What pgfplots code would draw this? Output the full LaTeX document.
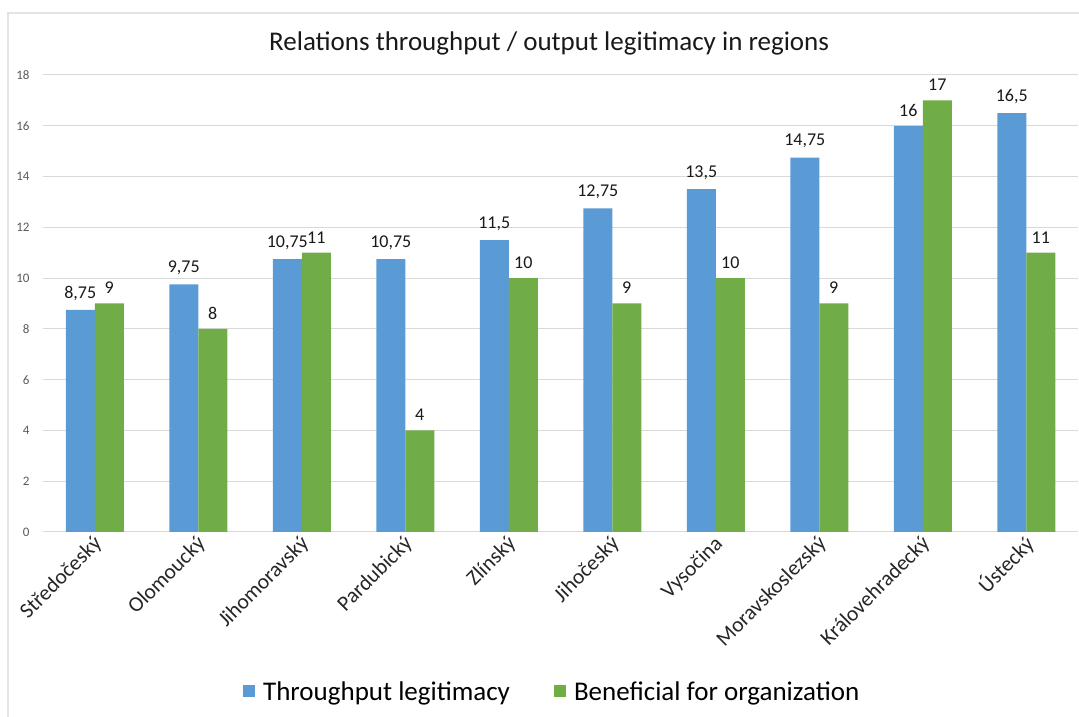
\documentclass[border=0pt]{standalone}
\usepackage{pgfplots}
\pgfplotsset{compat=1.18}
\usepackage{fontspec}
\setmainfont{Carlito}
\definecolor{cblue}{HTML}{5B9BD5}
\definecolor{cgreen}{HTML}{70AD47}
\definecolor{cgrid}{HTML}{D9D9D9}
\definecolor{cborder}{HTML}{E3E3E3}
\definecolor{ctick}{HTML}{595959}
\pgfplotstableread{
x y l
0 8.75 8,75
1 9.75 9,75
2 10.75 10,75
3 10.75 10,75
4 11.5 11,5
5 12.75 12,75
6 13.5 13,5
7 14.75 14,75
8 16 16
9 16.5 16,5
}\tput
\pgfplotstableread{
x y l
0 9 9
1 8 8
2 11 11
3 4 4
4 10 10
5 9 9
6 10 10
7 9 9
8 17 17
9 11 11
}\benef
\begin{document}
\begin{tikzpicture}
\draw[cborder, line width=1.2pt] (8pt,0pt) -- (8pt,704pt) -- (1079pt,704pt);
\begin{axis}[
  at={(43pt,185pt)}, anchor=south west,
  scale only axis, width=1035pt, height=457pt,
  xmin=-0.5, xmax=9.5, ymin=0, ymax=18,
  ytick={0,2,...,18},
  xtick={0,...,9},
  xticklabels={Středočeský,Olomoucký,Jihomoravský,Pardubický,Zlínský,Jihočeský,Vysočina,Moravskoslezský,Královehradecký,Ústecký},
  xticklabel style={rotate=45, anchor=east, font=\fontsize{21.5}{21.5}\selectfont, text=black!85, yshift=-6pt, xshift=3pt},
  yticklabel style={font=\fontsize{13}{13}\selectfont, text=ctick, xshift=-10pt, /pgf/number format/assume math mode=true},
  ymajorgrids, grid style={cgrid, line width=1pt},
  axis line style={draw=none},
  tick style={draw=none},
  ybar=0pt, bar width=29pt,
  nodes near coords, point meta=explicit symbolic,
  nodes near coords style={font=\fontsize{18}{18}\selectfont, text=black!90, yshift=6pt},
  title={Relations throughput / output legitimacy in regions},
  title style={at={(0.489,1)}, anchor=base, yshift=18pt, font=\fontsize{27}{27}\selectfont, text=black!90},
  legend style={at={(0.492,-0.35)}, anchor=center, draw=none, font=\fontsize{27}{27}\selectfont, /tikz/every even column/.append style={column sep=42pt}, /tikz/every odd column/.append style={column sep=6pt}},
  legend columns=2,
  legend image code/.code={\path[#1, draw=none] (0pt,-5pt) rectangle (12pt,7pt);},
]
\addplot[fill=cblue, draw=none] table[x=x, y=y, meta=l] {\tput};
\addplot[fill=cgreen, draw=none] table[x=x, y=y, meta=l] {\benef};
\legend{Throughput legitimacy, Beneficial for organization}
\end{axis}
\pgfresetboundingbox
\useasboundingbox (0,0) rectangle (1079pt,717pt);
\end{tikzpicture}
\end{document}
